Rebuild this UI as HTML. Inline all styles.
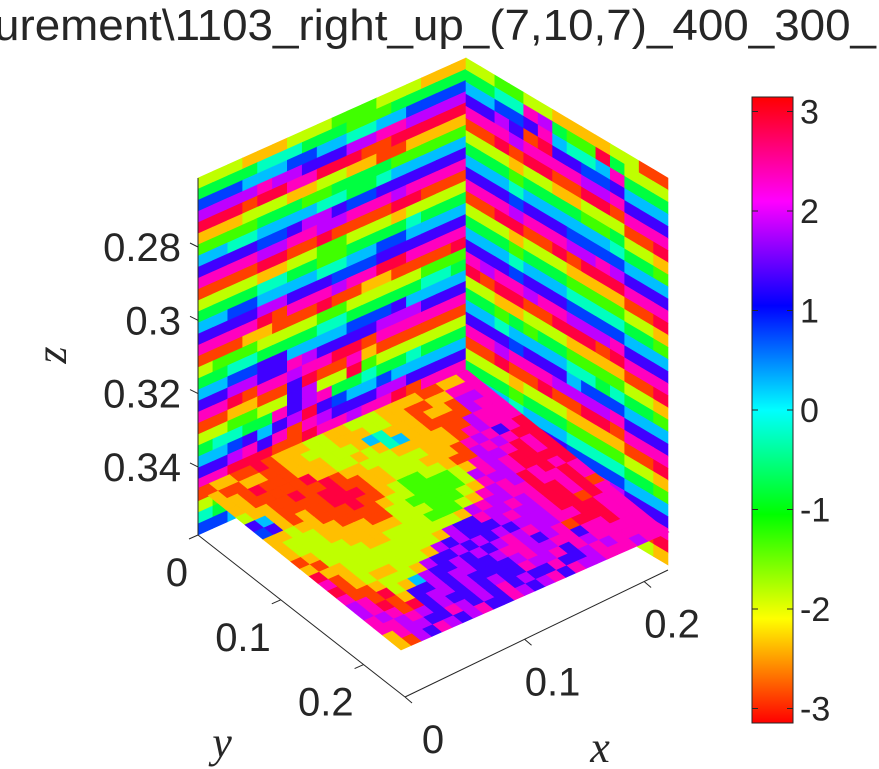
<!DOCTYPE html>
<html><head><meta charset="utf-8"><style>
html,body{margin:0;padding:0;background:#fff;}
svg{display:block;}
text{font-family:"Liberation Sans",sans-serif;fill:#262626;}
.ax{font-family:"Liberation Serif",serif;font-style:italic;}
</style></head><body>
<svg id="chart" width="879" height="769" viewBox="0 0 879 769" xmlns="http://www.w3.org/2000/svg">
<text x="-6" y="40" font-size="44" textLength="882" lengthAdjust="spacingAndGlyphs">urement\1103_right_up_(7,10,7)_400_300_</text>
<g id="faces"></g>
<g id="axes" stroke="#262626" stroke-width="1" fill="none"></g>
<g id="labels" font-size="40"></g>
<text class="ax" font-size="44" transform="translate(66,355) rotate(-90)" text-anchor="middle">z</text>
<text class="ax" font-size="44" x="222" y="757" text-anchor="middle">y</text>
<text class="ax" font-size="44" x="600" y="762" text-anchor="middle">x</text>
<defs><linearGradient id="cbg" x1="0" y1="1" x2="0" y2="0"></linearGradient></defs>
<rect x="752" y="97" width="41" height="626" fill="url(#cbg)" stroke="#262626" stroke-width="1"/>
<g id="cbticks" font-size="34"></g>
</svg>
<script>
// phase levels: char 0..b -> 12 hue bins over [-pi, pi]
const leftWall = [
"222111222333222111","444455544433344444","777666776655667777","9999a9988899aa9999",
"bbb0bbaabbb00bbbbb","111222112211001111","333344433444433333","665566665544566666",
"888877899877888888","aaaa99aa99aaa9aaaa","0000bb00b0000bb000","222211223322212222",
"444455443344445444","667766665566776666","888899888777888888","aaaab0aaa9aabbaaaa",
"00011000b00110000b","233322223322222333","445544445544444554","667788666677786666",
"889988a98888999888","aab0aa9aabb0aaaaaa","0011008b00a1000000","2233228922b3222222",
"45544a89a445445444","6678689b8766766666","889a8a0a9888998888","aabbb00baa9aab0aaa",
"0101212100b0000000","2323434322112222b2","5465566544335555a4","776868787667777766"];
const rightWall = [
"22332211112200","4455a9433b4222","66778a6556a444","88980b88778666","aaa9aaaa99a888",
"00b0bb00bb0aaa","2221221122200b","44434444334221","66656666665443","88878887777666",
"aaa9aaa99a9888","00bb00b0bbbaaa","2221222111100b","44434443333221","66656665555443",
"88878887777666","a9aa9aa999a888","b0bb00bbb0baaa","2211222111100b","44343443333221",
"66566665545443","88878886777666","aa9aaa9999a888","00b00b00bb0aaa","2221222111100b",
"44434443333221","66656665555443","88878887777666","aaa9aaa99a9888","00bb00b0bbbaaa",
"2221222111100b","44434443333221"];
const floorSlice = [
"01100b0111221122211110011a","10011001122211122110011aaa","110b000111222165111011099a",
"1100000b1122121561100009aa","21100b00b01122211111009aaa","8610000bb001122221110a9aaa",
"7810100bbb0112221110a9a8ab","11211000b001233221009a9abb","1222110000122333321a99abab",
"1222111100223333329a9abbab","012221111122233321a99abbbb","10222211222233321a9a9babab",
"b112222222222219a99aabaaba","a01222222221988a99a9abbaba","b0121122219898889a99abbab0",
"a0012221988989898999abb0ba","9a0b21698898989a9a99aabbaa","9ab01889899889aa989a0bbbaa",
"a9a0b8998988889a99aa8aabaa","aa9a9898898988a99a8a9aaaaa","1a9988a9898a8988a889a9aaaa",
"1098a989a88a989a8a99aaa9aa"];
const zTicks = [0.28, 0.30, 0.32, 0.34];
const zTickLabels = ["0.28","0.3","0.32","0.34"];
const xTicks = [0, 0.1, 0.2];
const xTickLabels = ["0","0.1","0.2"];
const yTicks = [0, 0.1, 0.2];
const yTickLabels = ["0","0.1","0.2"];
const cbTicks = [3,2,1,0,-1,-2,-3];
const cbTickLabels = ["3","2","1","0","-1","-2","-3"];

const NS="http://www.w3.org/2000/svg";
function levelToValue(ch){const k=parseInt(ch,12);return -Math.PI+(k+0.5)*2*Math.PI/12;}
function valueToColor(v){const h=((v+Math.PI)/(2*Math.PI))*360;return "hsl("+h.toFixed(1)+",100%,50%)";}
function lerp(a,b,t){return [a[0]+(b[0]-a[0])*t,a[1]+(b[1]-a[1])*t];}
function bil(P,u,v){const a=lerp(P[0],P[1],u),b=lerp(P[3],P[2],u);return lerp(a,b,v);}
function drawFace(rows,P,name){
  const g=document.getElementById('faces');
  const nr=rows.length,nc=rows[0].length;
  for(let r=0;r<nr;r++){for(let c=0;c<nc;c++){
    const ch=rows[r].charAt(Math.min(c,rows[r].length-1));
    const q=[bil(P,c/nc,r/nr),bil(P,(c+1)/nc,r/nr),bil(P,(c+1)/nc,(r+1)/nr),bil(P,c/nc,(r+1)/nr)];
    const p=document.createElementNS(NS,'polygon');
    p.setAttribute('points',q.map(a=>a[0].toFixed(2)+','+a[1].toFixed(2)).join(' '));
    const col=valueToColor(levelToValue(ch));
    p.setAttribute('fill',col);
    p.setAttribute('stroke',col);
    p.setAttribute('stroke-width','0.6');
    
    
    g.appendChild(p);
  }}
}
drawFace(leftWall,[[198,178],[466,58],[466,415],[198,535]],'left-wall');
drawFace(rightWall,[[466,58],[668,178],[668,565],[466,445]],'right-wall');
drawFace(floorSlice,[[199,488],[467,370],[669,532],[401,650]],'floor');

(function(){
  const ax=document.getElementById('axes'),lb=document.getElementById('labels');
  function line(x1,y1,x2,y2,name){const l=document.createElementNS(NS,'line');
    l.setAttribute('x1',x1);l.setAttribute('y1',y1);l.setAttribute('x2',x2);l.setAttribute('y2',y2);
    
    
    ax.appendChild(l);}
  function txt(x,y,s,anchor,name,parent,fs){const t=document.createElementNS(NS,'text');
    t.setAttribute('x',x);t.setAttribute('y',y);t.setAttribute('text-anchor',anchor);if(fs)t.setAttribute('font-size',fs);t.textContent=s;
    
    
    (parent||lb).appendChild(t);}
  const zY=z=>247+(z-0.28)/0.02*73.3;
  line(198,178,198,535,'z-axis-line');
  zTicks.forEach((z,i)=>{const y=zY(z);line(190,y-4,198,y,'z-tick');txt(181,y+14,zTickLabels[i],'end','z-tick-label');});
  const yP=v=>[198+(405-198)*v/0.25,535+(697-535)*v/0.25];
  line(198,535,405,697,'y-axis-line');
  yTicks.forEach((v,i)=>{const p=yP(v);line(p[0],p[1],p[0]-9,p[1]+4,'y-tick');txt(p[0]-10,p[1]+51,yTickLabels[i],'end','y-tick-label');});
  const xP=v=>[405+(668-405)*v/0.22,697+(570-697)*v/0.22];
  line(405,697,668,570,'x-axis-line');
  xTicks.forEach((v,i)=>{const p=xP(v);line(p[0],p[1],p[0]+7,p[1]+6,'x-tick');txt(p[0]+28,p[1]+56,xTickLabels[i],'middle','x-tick-label');});
  const grad=document.getElementById('cbg');
  for(let i=0;i<=24;i++){const v=-Math.PI+i*2*Math.PI/24;const s=document.createElementNS(NS,'stop');
    s.setAttribute('offset',(i/24).toFixed(4));s.setAttribute('stop-color',valueToColor(v));grad.appendChild(s);}
  const cb=document.getElementById('cbticks');
  const cbY=v=>410-v*99.5;
  cbTicks.forEach((v,i)=>{const y=cbY(v);
    const l1=document.createElementNS(NS,'line');l1.setAttribute('x1',752);l1.setAttribute('x2',758);l1.setAttribute('y1',y);l1.setAttribute('y2',y);l1.setAttribute('stroke','#262626');
    
    
    cb.appendChild(l1);
    const l2=document.createElementNS(NS,'line');l2.setAttribute('x1',787);l2.setAttribute('x2',793);l2.setAttribute('y1',y);l2.setAttribute('y2',y);l2.setAttribute('stroke','#262626');
    
    
    cb.appendChild(l2);
    txt(800,y+12,cbTickLabels[i],'start','colorbar-tick-label',cb,34);});
})();
</script>
</body></html>
